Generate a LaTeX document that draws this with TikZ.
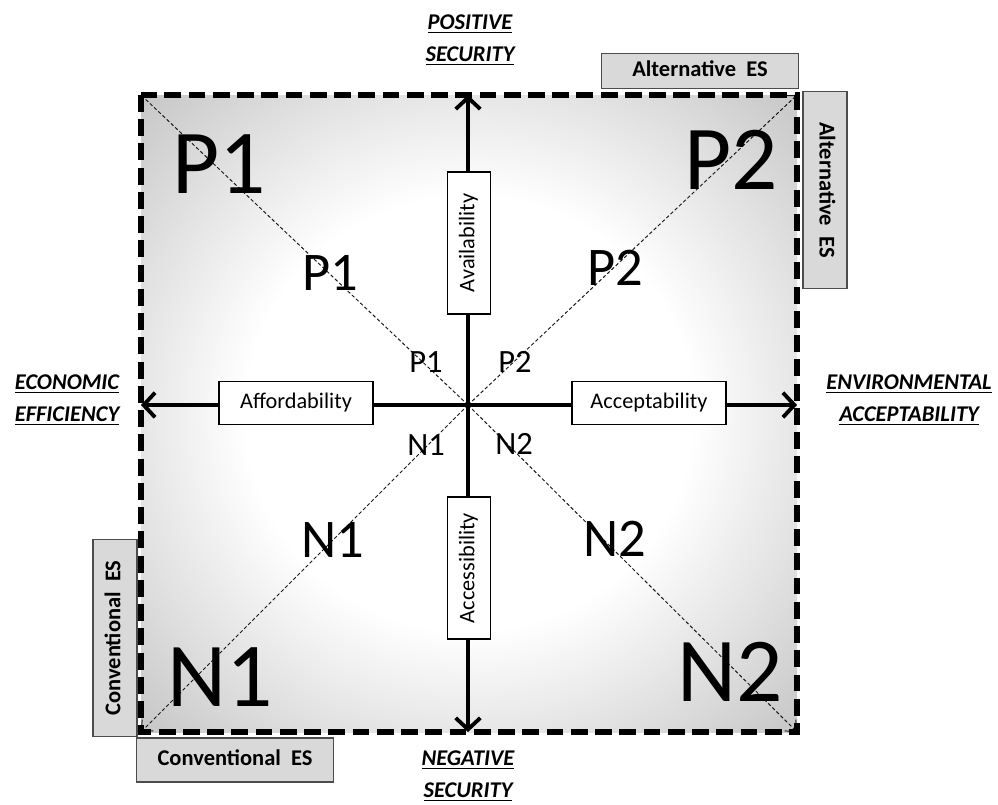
\documentclass[tikz,border=0pt]{standalone}
\usepackage{fontspec}
\setmainfont{Carlito}
\usetikzlibrary{arrows.meta}

%grey towards the frame, white in the middle
\pgfdeclareradialshading{quadfade}{\pgfpoint{0bp}{0bp}}{color(0bp)=(white); color(17bp)=(white); color(50bp)=(black!40); color(72bp)=(black!48)}

\begin{document}
\begin{tikzpicture}
	[x=0.02cm, y=-0.02cm,
	framestyle/.style={line width=3.2pt, dash pattern=on 9.6pt off 4.2pt},
	axisstyle/.style={line width=2.2pt, -{Straight Barb[length=6.5pt,width=14pt]}},
	diagstyle/.style={line width=0.55pt, black!90, dash pattern=on 2pt off 1.3pt, -{Straight Barb[length=5pt,width=9pt]}},
	labelbox/.style={draw, line width=0.7pt, fill=white, inner sep=0pt, font=\fontsize{12.7}{14}\selectfont, text height=9pt, text depth=3pt, minimum height=0.86cm},
	esbox/.style={draw=black!70, line width=0.7pt, fill=black!15, inner sep=0pt, font=\bfseries\fontsize{12.8}{14}\selectfont, text height=9pt, text depth=3pt, minimum width=3.93cm, minimum height=0.88cm},
	biglbl/.style={inner sep=0pt, font=\fontsize{52}{60}\selectfont},
	midlbl/.style={inner sep=0pt, font=\fontsize{31}{36}\selectfont},
	smalllbl/.style={inner sep=0pt, font=\fontsize{18.5}{22}\selectfont},
	axistitle/.style={align=center, inner sep=0pt, font=\bfseries\itshape\fontsize{12.8}{18.5}\selectfont}
	]
	
	%Set params
	\def\horboxw{3.08cm}
	\def\verboxw{2.84cm}
	
	\useasboundingbox (0,0) rectangle (998,805);
	
	%Frame corners and axis ends
	\coordinate(O) at (468,405);
	\coordinate(NW) at (141,95);
	\coordinate(NE) at (797,95);
	\coordinate(SW) at (141,732);
	\coordinate(SE) at (797,732);
	\coordinate(Top) at (468,95);
	\coordinate(Bottom) at (468,732);
	\coordinate(Left) at (141,405);
	\coordinate(Right) at (797,405);
	
	\shade[shading=quadfade] (NW) rectangle (SE);
	
	%Diagonals
	\draw[diagstyle] (O) -- (NW);
	\draw[diagstyle] (O) -- (NE);
	\draw[diagstyle] (O) -- (SW);
	\draw[diagstyle] (O) -- (SE);
	
	%Axes
	\draw[axisstyle] (O) -- (Top);
	\draw[axisstyle] (O) -- (Bottom);
	\draw[axisstyle] (O) -- (Left);
	\draw[axisstyle] (O) -- (Right);
	
	\draw[framestyle] (NW) rectangle (SE);
	
	%Dimension boxes on the axes
	\node(Avail)[labelbox, rotate=90, minimum width=\verboxw] at (469,243) {Availability};
	\node(Access)[labelbox, rotate=90, minimum width=\verboxw] at (469,568) {Accessibility};
	\node(Afford)[labelbox, minimum width=\horboxw] at (296,403) {Affordability};
	\node(Accept)[labelbox, minimum width=\horboxw] at (649,403) {Acceptability};
	
	%Energy system boxes
	\node(AltTop)[esbox, minimum height=0.7cm] at (700,71) {Alternative\ \ ES};
	\node(AltSide)[esbox, rotate=-90] at (825,190) {Alternative\ \ ES};
	\node(ConvSide)[esbox, rotate=90] at (115,638) {Conventional\ \ ES};
	\node(ConvBottom)[esbox] at (235,760) {Conventional\ \ ES};
	
	%Quadrant labels
	\node(PoneBig)[biglbl] at (219,164) {P1};
	\node(PtwoBig)[biglbl] at (731,160) {P2};
	\node(NoneBig)[biglbl] at (220,677) {N1};
	\node(NtwoBig)[biglbl] at (730,672) {N2};
	
	\node(PoneMid)[midlbl] at (330,273) {P1};
	\node(PtwoMid)[midlbl] at (615,268) {P2};
	\node(NoneMid)[midlbl] at (333,540) {N1};
	\node(NtwoMid)[midlbl] at (615,539) {N2};
	
	\node(PoneSmall)[smalllbl] at (426,362) {P1};
	\node(PtwoSmall)[smalllbl] at (515,362) {P2};
	\node(NoneSmall)[smalllbl] at (426,445) {N1};
	\node(NtwoSmall)[smalllbl] at (514,444) {N2};
	
	%Axis titles
	\node(PosSec)[axistitle] at (470,40) {\underline{POSITIVE}\\\underline{SECURITY}};
	\node(NegSec)[axistitle] at (468,776) {\underline{NEGATIVE}\\\underline{SECURITY}};
	\node(EconEff)[axistitle] at (67,400) {\underline{ECONOMIC}\\\underline{EFFICIENCY}};
	\node(EnvAcc)[axistitle] at (909,400) {\underline{ENVIRONMENTAL}\\\underline{ACCEPTABILITY}};
	
\end{tikzpicture}
\end{document}
